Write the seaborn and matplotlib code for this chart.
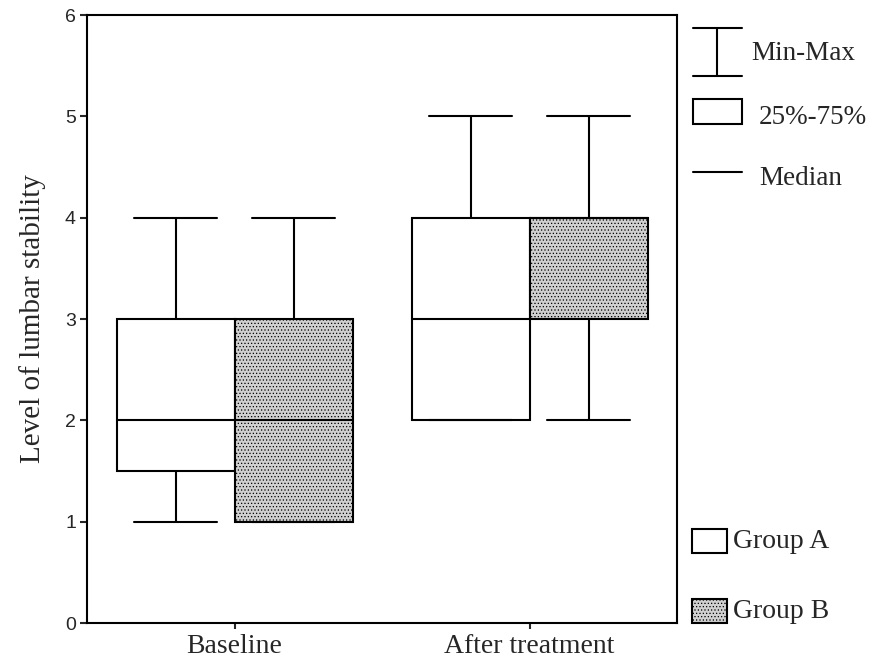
import numpy as np
import pandas as pd
import matplotlib.pyplot as plt
import seaborn as sns
from matplotlib.lines import Line2D
from matplotlib.patches import Rectangle

# scores per group / time point (reproduce min, quartiles, median, max of the figure)
baseline_a = [1, 1, 2, 2, 3, 3, 4]
baseline_b = [1, 1, 1, 2, 3, 3, 4]
after_a = [2, 2, 2, 3, 4, 4, 5]
after_b = [2, 3, 3, 4, 4, 4, 5]

times = ["Baseline", "After treatment"]
groups = ["Group A", "Group B"]
y_ticks = [0, 1, 2, 3, 4, 5, 6]

W, H = 869, 660
GRAY = "#d0d0d0"

sns.set_style("ticks")
plt.rcParams["font.family"] = ["Liberation Serif", "DejaVu Serif"]
plt.rcParams["hatch.linewidth"] = 0.5

rows = []
for t, g, vals in [(times[0], groups[0], baseline_a), (times[0], groups[1], baseline_b),
                   (times[1], groups[0], after_a), (times[1], groups[1], after_b)]:
    for v in vals:
        rows.append({"time": t, "group": g, "level": v})
df = pd.DataFrame(rows)

fig = plt.figure(figsize=(W / 100, H / 100), dpi=100)
ax = fig.add_axes([87 / W, 1 - 623 / H, 590 / W, 608 / H])

sns.boxplot(
    data=df, x="time", y="level", hue="group", order=times, hue_order=groups,
    palette={"Group A": "white", "Group B": GRAY}, saturation=1,
    whis=(0, 100), width=0.8, gap=0, showfliers=False,
    linecolor="black", linewidth=1.5, legend=False, ax=ax,
)

# hatch the grey boxes, widen whisker caps
for p in ax.patches:
    if p.get_facecolor()[0] < 0.99:
        p.set_hatch(".....")
for ln in ax.lines:
    x, y = ln.get_data()
    x = np.asarray(x, float)
    y = np.asarray(y, float)
    if len(x) == 2 and y[0] == y[1] and abs(abs(x[1] - x[0]) - 0.2) < 1e-6:
        c = x.mean()
        ln.set_xdata([c - 0.142, c + 0.142])

ax.set_xlim(-0.5, 1.5)
ax.set_ylim(0, 6)
ax.set_yticks(y_ticks)
ax.set_yticklabels([str(v) for v in y_ticks])
ax.set_xticks(range(len(times)))
ax.set_xticklabels(times, fontsize=20)
ax.tick_params(axis="y", length=5, width=1.5, pad=3, labelsize=14)
for lab in ax.get_yticklabels():
    lab.set_family(["Liberation Sans"])
ax.tick_params(axis="x", length=4, width=1.5, pad=4)
ax.set_xlabel("")
ax.set_ylabel("Level of lumbar stability", fontsize=21)
ax.yaxis.set_label_coords(-0.07, 0.5)
for s in ax.spines.values():
    s.set_visible(True)
    s.set_linewidth(1.5)
    s.set_color("black")


def fx(px):
    return px / W


def fy(py):
    return 1 - py / H


tr = fig.transFigure
# Min-Max glyph
fig.add_artist(Line2D([fx(693), fx(742)], [fy(28), fy(28)], color="black", lw=1.5, transform=tr))
fig.add_artist(Line2D([fx(693), fx(742)], [fy(76), fy(76)], color="black", lw=1.5, transform=tr))
fig.add_artist(Line2D([fx(717), fx(717)], [fy(28), fy(76)], color="black", lw=1.5, transform=tr))
fig.text(fx(751), fy(53), "Min-Max", fontsize=19.5, va="center", ha="left")
# 25%-75% box
fig.add_artist(Rectangle((fx(693), fy(124)), fx(742) - fx(693), fy(99) - fy(124),
                         facecolor="white", edgecolor="black", lw=1.5, transform=tr))
fig.text(fx(759), fy(117), "25%-75%", fontsize=19.5, va="center", ha="left")
# Median line
fig.add_artist(Line2D([fx(693), fx(742)], [fy(172), fy(172)], color="black", lw=1.5, transform=tr))
fig.text(fx(759), fy(178), "Median", fontsize=19.5, va="center", ha="left")

# group keys
for g, top, color in [(groups[0], 529, "white"), (groups[1], 599, GRAY)]:
    r = Rectangle((fx(692), fy(top + 24)), fx(727) - fx(692), fy(top) - fy(top + 24),
                  facecolor=color, edgecolor="black", lw=1.5, transform=tr)
    if color != "white":
        r.set_hatch(".....")
    fig.add_artist(r)
    fig.text(fx(733), fy(top + 13), g, fontsize=20, va="center", ha="left")

fig.savefig("out.png", dpi=100)
